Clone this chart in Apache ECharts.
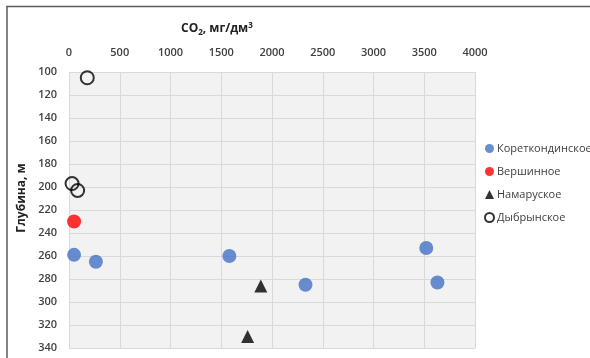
<!DOCTYPE html>
<html>
<head>
<meta charset="utf-8">
<script src="https://cdn.jsdelivr.net/npm/echarts@6/dist/echarts.min.js"></script>
<style>
  html, body { margin: 0; padding: 0; background: #fff; }
  #chart { width: 590px; height: 358px; }
</style>
</head>
<body>
<div id="chart"></div>
<script>
// CO2 concentration (mg/dm3) vs depth (m) for four deposits
const seriesNames = ['Кореткондинское', 'Вершинное', 'Намаруское', 'Дыбрынское'];

const koretkondCO2   = [50, 265, 1580, 2330, 3520, 3630];
const koretkondDepth = [259, 265, 260, 285, 253, 283];

const vershinnoeCO2   = [50];
const vershinnoeDepth = [230];

const namaruCO2   = [1890, 1760];
const namaruDepth = [286, 330];

const dybrynCO2   = [180, 30, 85];
const dybrynDepth = [105, 197, 203];

const xTicks = { min: 0, max: 4000, step: 500 };
const yTicks = { min: 100, max: 340, step: 20 };

const pairs = (xs, ys) => xs.map((x, i) => [x, ys[i]]);

const FONT = '"Open Sans", "Noto Sans", sans-serif';
const TEXT = '#404040';

const chart = echarts.init(document.getElementById('chart'), null, { renderer: 'canvas' });

chart.setOption({
  animation: false,
  backgroundColor: '#ffffff',
  textStyle: { fontFamily: FONT },
  grid: {
    left: 69, right: 115, top: 72, bottom: 10,
    show: true, backgroundColor: '#f2f2f2', borderWidth: 0
  },
  xAxis: {
    type: 'value', position: 'top',
    min: xTicks.min, max: xTicks.max, interval: xTicks.step,
    axisLine: { show: false }, axisTick: { show: false },
    axisLabel: {
      color: TEXT, fontSize: 11, fontWeight: 600, margin: 14, fontFamily: FONT,
      formatter: v => String(v)
    },
    splitLine: { show: true, lineStyle: { color: '#d9d9d9', width: 1 } }
  },
  yAxis: {
    type: 'value', inverse: true,
    min: yTicks.min, max: yTicks.max, interval: yTicks.step,
    axisLine: { show: false }, axisTick: { show: false },
    axisLabel: {
      color: TEXT, fontSize: 11, fontWeight: 600, margin: 12, fontFamily: FONT,
      formatter: v => String(v)
    },
    splitLine: { show: true, lineStyle: { color: '#d9d9d9', width: 1 } }
  },
  legend: {
    orient: 'vertical', left: 479, top: 138,
    itemWidth: 9, itemHeight: 9, itemGap: 12,
    textStyle: { color: TEXT, fontSize: 11, fontFamily: FONT, padding: [0, 0, 0, -2] },
    data: seriesNames
  },
  graphic: [
    {
      type: 'polyline', silent: true,
      shape: { points: [[7, 358], [7, 6.5], [590, 6.5]] },
      style: { stroke: '#595959', lineWidth: 1.5, fill: null }
    },
    {
      type: 'text', left: 181, top: 22,
      style: {
        text: '{a|CO}{s|2}{a|, мг/дм}{p|3}',
        rich: {
          a: { fontSize: 12, fontWeight: 'bold', fill: '#222', fontFamily: FONT },
          s: { fontSize: 8, fontWeight: 'bold', fill: '#222', fontFamily: FONT, padding: [8, 0, 0, 0] },
          p: { fontSize: 8, fontWeight: 'bold', fill: '#222', fontFamily: FONT, padding: [0, 0, 6, 0] }
        }
      }
    },
    {
      type: 'text', x: 22, y: 198, rotation: Math.PI / 2,
      style: {
        text: 'Глубина, м', fill: '#222', fontSize: 12, fontWeight: 'bold',
        fontFamily: FONT, align: 'center', verticalAlign: 'middle'
      }
    }
  ],
  series: [
    {
      name: seriesNames[0], type: 'scatter', symbol: 'circle', symbolSize: 14,
      itemStyle: { color: '#4472c4' },
      data: pairs(koretkondCO2, koretkondDepth)
    },
    {
      name: seriesNames[1], type: 'scatter', symbol: 'circle', symbolSize: 14,
      itemStyle: { color: '#ff0000' },
      data: pairs(vershinnoeCO2, vershinnoeDepth)
    },
    {
      name: seriesNames[2], type: 'scatter', symbol: 'triangle', symbolSize: 13,
      itemStyle: { color: '#000000' },
      data: pairs(namaruCO2, namaruDepth)
    },
    {
      name: seriesNames[3], type: 'scatter', symbol: 'circle', symbolSize: 13,
      itemStyle: { color: 'rgba(0,0,0,0)', borderColor: '#000000', borderWidth: 2 },
      data: pairs(dybrynCO2, dybrynDepth)
    }
  ]
});
</script>
</body>
</html>
